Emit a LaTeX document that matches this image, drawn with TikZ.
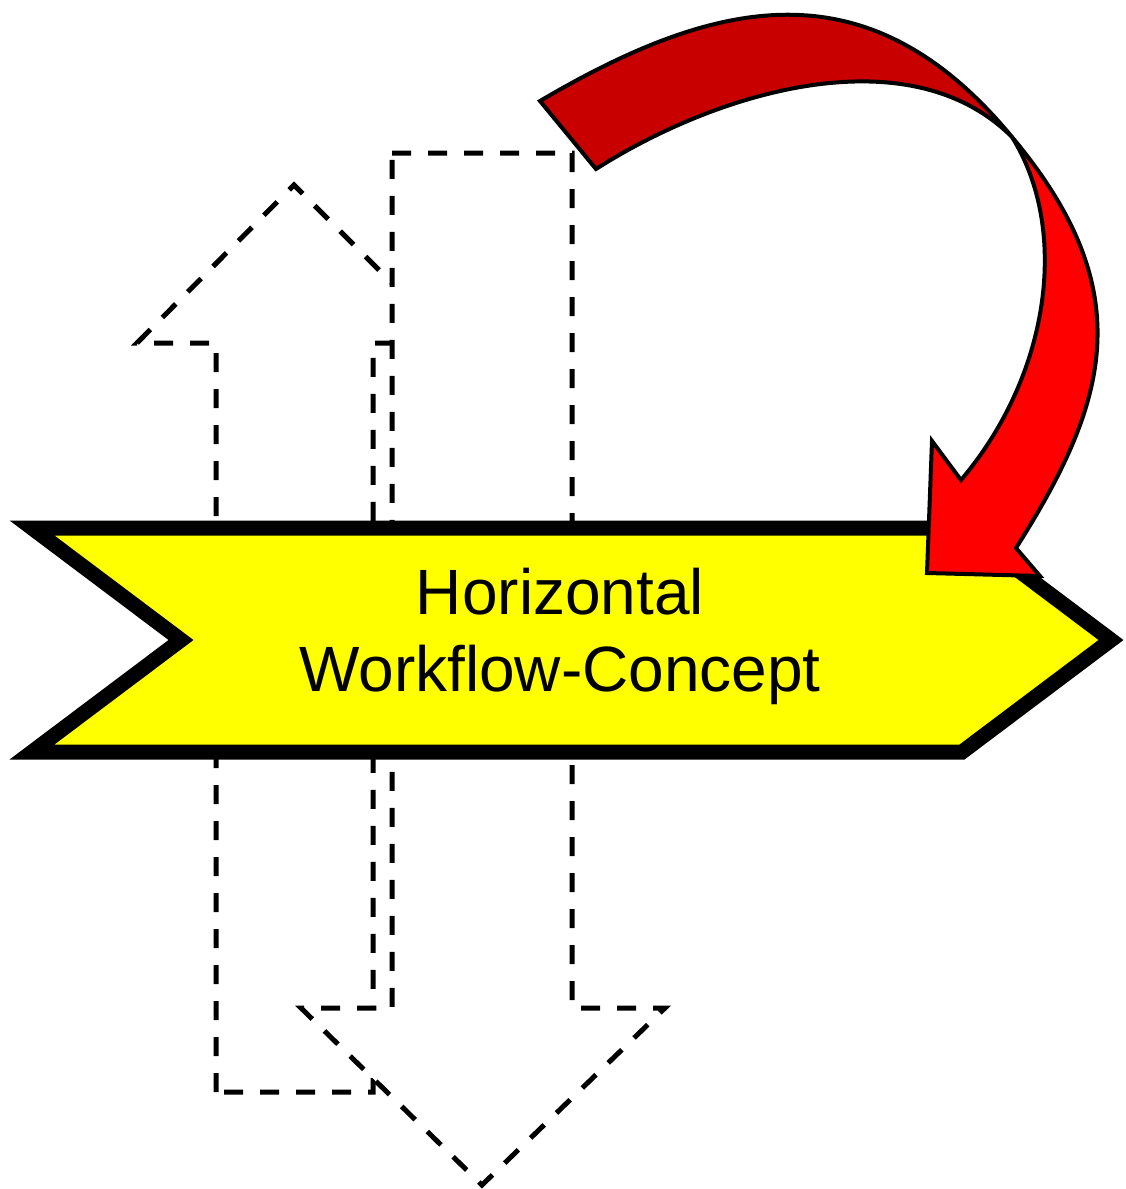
\documentclass[tikz,border=0pt]{standalone}
\usepackage{fontspec}
\setmainfont{Liberation Sans}
\definecolor{ribbondark}{HTML}{C80000}
\definecolor{ribbonlight}{HTML}{FF0000}
\definecolor{bannerfill}{HTML}{FFFF00}

\begin{document}
\begin{tikzpicture}[x=1pt, y=-1pt,
		outline/.style={draw, dash pattern=on 19pt off 17pt, line width=5pt},
		banner/.style={draw, fill=bannerfill, line width=15pt},
		ribbon/.style={draw, line width=4pt}]
		\useasboundingbox (0,0) rectangle (1125,1189);

		% Vertical arrows
		\begin{scope}
			\draw[outline] (216,1092) -- (216,343) -- (137,343) -- (294,185) -- (452,343) -- (373,343) -- (373,1092) -- cycle;
			\draw[outline, fill=white] (392,153) -- (572,153) -- (572,1008) -- (665,1008) -- (482,1185) -- (301,1008) -- (392,1008) -- cycle;
		\end{scope}

		% Banner
		\begin{scope}
			\draw[banner] (32,528) -- (962,528) -- (1111,640) -- (962,752) -- (32,752) -- (181,640) -- cycle;
			\node (title) at (560,636) [align=center, inner sep=0pt, font=\fontsize{64pt}{77pt}\selectfont] {Horizontal\\Workflow-Concept};
		\end{scope}

		% Curved arrow
		\begin{scope}
			\draw[ribbon, fill=ribbondark] (540,101) .. controls (720,-5) and (870,-35) .. (1012,137) .. controls (910,35) and (720,90) .. (596,169) -- cycle;
			\draw[ribbon, fill=ribbonlight] (1012,137) .. controls (1140,290) and (1110,400) .. (1016,548) -- (1040,576) -- (927,573) -- (932,441) -- (961,480) .. controls (1050,375) and (1070,230) .. cycle;
		\end{scope}

	\end{tikzpicture}
\end{document}
